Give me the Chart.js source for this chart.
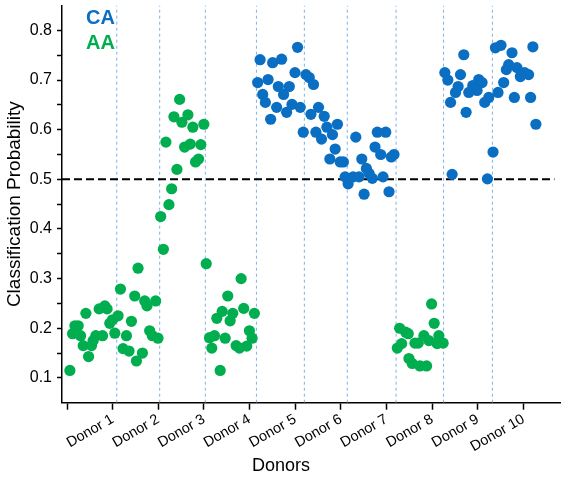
<!DOCTYPE html>
<html>
<head>
<meta charset="utf-8">
<script src="https://cdn.jsdelivr.net/npm/chart.js@4.4.1/dist/chart.umd.min.js"></script>
<style>
  html, body { margin: 0; padding: 0; background: #ffffff; }
  #wrap { width: 566px; height: 477px; position: relative; }
</style>
</head>
<body>
<div id="wrap"><canvas id="c" width="566" height="477"></canvas></div>
<script>
// ---------- data ----------
const donorTicks = [0, 1, 2, 3, 4, 5, 6, 7, 8, 9, 10];
const donorLabels = ['', 'Donor 1', 'Donor 2', 'Donor 3', 'Donor 4', 'Donor 5',
                     'Donor 6', 'Donor 7', 'Donor 8', 'Donor 9', 'Donor 10'];
const yTicks = [0.1, 0.15, 0.2, 0.25, 0.3, 0.35, 0.4, 0.45, 0.5, 0.55, 0.6, 0.65, 0.7, 0.75, 0.8];
const yLabels = ['0.1', '', '0.2', '', '0.3', '', '0.4', '', '0.5', '', '0.6', '', '0.7', '', '0.8'];

// AA (green) points
const aaX = [
  0.063, 0.122, 0.173, 0.245, 0.297, 0.354, 0.413, 0.472, 0.537, 0.572, 0.631, 0.704, 0.778, 0.828, 0.878, 0.937, 0.996, 1.047, 1.119, 1.171,
  1.228, 1.302, 1.359, 1.411, 1.483, 1.521, 1.652, 1.702, 1.752, 1.811, 1.870, 1.942, 1.993, 1.556,
  2.467, 2.342, 2.648, 2.517, 2.757, 2.998, 2.167, 2.576, 2.700, 2.932, 2.816, 2.882, 2.408, 2.292, 2.233, 2.052, 2.111, 3.050,
  3.122, 3.172, 3.231, 3.282, 3.356, 3.400, 3.465, 3.522, 3.574, 3.631, 3.705, 3.778, 3.815, 3.871, 3.937, 3.996, 4.055, 4.105,
  7.988, 7.288, 7.420, 7.476, 8.045, 7.819, 7.929, 8.147, 8.110, 8.241, 7.623, 7.695, 7.332, 7.236, 7.492, 7.564, 7.732, 7.878
];
const aaY = [
  0.115, 0.189, 0.205, 0.205, 0.185, 0.165, 0.230, 0.143, 0.165, 0.175, 0.185, 0.239, 0.185, 0.245, 0.239, 0.210, 0.217, 0.190, 0.225, 0.279,
  0.159, 0.185, 0.154, 0.214, 0.265, 0.134, 0.150, 0.255, 0.245, 0.195, 0.185, 0.255, 0.180, 0.321,
  0.661, 0.626, 0.630, 0.615, 0.605, 0.611, 0.575, 0.565, 0.571, 0.570, 0.535, 0.541, 0.520, 0.481, 0.449, 0.425, 0.359, 0.330,
  0.181, 0.160, 0.185, 0.220, 0.115, 0.234, 0.180, 0.265, 0.215, 0.230, 0.165, 0.160, 0.300, 0.240, 0.164, 0.195, 0.180, 0.230,
  0.249, 0.200, 0.192, 0.189, 0.210, 0.185, 0.175, 0.185, 0.169, 0.170, 0.170, 0.170, 0.169, 0.160, 0.139, 0.129, 0.124, 0.124
];

// CA (blue) points
const caX = [
  4.230, 4.505, 4.702, 5.051, 4.177, 4.405, 4.995, 5.235, 5.307, 5.401, 4.287, 4.630, 4.870, 4.745, 4.346, 4.593, 4.929, 5.110, 4.811, 4.461,
  5.510, 5.344, 5.635, 5.176, 5.453, 5.694, 5.925, 5.576, 5.816, 5.875, 5.759, 5.984, 6.056,
  6.327, 6.093, 6.159, 6.268, 6.399, 6.458, 6.509, 6.559, 6.618, 6.690, 6.749, 6.799, 6.983, 6.873, 6.924, 7.055, 7.105, 7.164,
  8.278, 8.344, 8.693, 8.621, 8.569, 8.512, 8.403, 8.744, 8.803, 8.890, 8.962, 9.021, 9.093, 8.984, 9.152, 9.240, 9.334, 8.438, 9.211,
  9.386, 9.508, 9.749, 10.207, 9.677, 9.626, 9.858, 10.026, 10.113, 9.932, 9.567, 9.443, 9.801, 10.157, 10.273
];
const caY = [
  0.741, 0.735, 0.742, 0.766, 0.695, 0.701, 0.715, 0.711, 0.705, 0.691, 0.671, 0.687, 0.687, 0.671, 0.655, 0.645, 0.651, 0.645, 0.635, 0.621,
  0.645, 0.631, 0.627, 0.595, 0.595, 0.605, 0.611, 0.581, 0.590, 0.561, 0.541, 0.535, 0.535,
  0.585, 0.505, 0.491, 0.505, 0.505, 0.541, 0.470, 0.522, 0.512, 0.502, 0.565, 0.595, 0.595, 0.550, 0.505, 0.475, 0.545, 0.550,
  0.715, 0.700, 0.751, 0.711, 0.687, 0.675, 0.655, 0.635, 0.675, 0.689, 0.685, 0.701, 0.695, 0.679, 0.655, 0.665, 0.555, 0.510, 0.501,
  0.765, 0.770, 0.755, 0.767, 0.731, 0.721, 0.725, 0.715, 0.711, 0.707, 0.695, 0.675, 0.665, 0.665, 0.611
];

// donor group boundaries (x) and decision threshold (y)
const boundaries = [1.09, 2.03, 3.03, 4.15, 5.20, 6.14, 7.21, 8.25, 9.32];
const threshold = 0.5;
const thresholdEnd = 10.68;

// ---------- chart ----------
const X_MIN = -0.11, X_MAX = 10.81, Y_MIN = 0.05, Y_MAX = 0.85;
const BLUE = '#0a6fc2', GREEN = '#00ae4f';
const FONT = "'Liberation Sans', Arial, sans-serif";

const pts = (xs, ys) => xs.map((x, i) => ({ x: x, y: ys[i] }));

const datasets = [
  { label: 'CA', data: pts(caX, caY), backgroundColor: BLUE, pointRadius: 5.6, pointBorderWidth: 0, order: 1 },
  { label: 'AA', data: pts(aaX, aaY), backgroundColor: GREEN, pointRadius: 5.6, pointBorderWidth: 0, order: 2 }
];
boundaries.forEach(b => {
  datasets.push({
    data: [{ x: b, y: Y_MIN }, { x: b, y: Y_MAX }],
    showLine: true, borderColor: '#7eb2e6', borderWidth: 1, borderDash: [3, 3],
    pointRadius: 0, order: 20
  });
});
datasets.push({
  data: [{ x: X_MIN, y: threshold }, { x: thresholdEnd, y: threshold }],
  showLine: true, borderColor: '#000000', borderWidth: 2, borderDash: [8, 4],
  pointRadius: 0, order: 10
});

const textPlugin = {
  id: 'textPlugin',
  afterDraw(chart) {
    const ctx = chart.ctx;
    ctx.save();
    ctx.textBaseline = 'alphabetic';
    ctx.textAlign = 'left';
    ctx.font = "bold 20px " + FONT;
    ctx.fillStyle = BLUE;
    ctx.fillText('CA', 86, 24);
    ctx.fillStyle = GREEN;
    ctx.fillText('AA', 86, 49);
    ctx.fillStyle = '#000';
    ctx.font = "18px " + FONT;
    ctx.textAlign = 'center';
    ctx.textBaseline = 'middle';
    ctx.fillText('Donors', 281, 466);
    ctx.restore();
  }
};

new Chart(document.getElementById('c'), {
  type: 'scatter',
  data: { datasets: datasets },
  options: {
    responsive: false,
    animation: false,
    events: [],
    devicePixelRatio: 1,
    layout: { padding: { left: 0, right: 4, top: 2.7, bottom: 0 } },
    plugins: { legend: { display: false }, tooltip: { enabled: false } },
    scales: {
      x: {
        type: 'linear', min: X_MIN, max: X_MAX,
        afterBuildTicks: s => { s.ticks = donorTicks.map(v => ({ value: v })); },
        afterFit: s => { s.height = 74.3; s.paddingLeft = 0; s.paddingRight = 0; },
        ticks: {
          autoSkip: false, minRotation: 30, maxRotation: 30, padding: 1,
          color: '#000', font: { family: FONT, size: 14.5 },
          callback: v => donorLabels[donorTicks.indexOf(v)] ?? ''
        },
        grid: { drawOnChartArea: false, drawTicks: true, tickLength: 7, tickColor: '#000', tickWidth: 1.5 },
        border: { display: true, color: '#000', width: 1.5 },
        title: { display: false }
      },
      y: {
        type: 'linear', min: Y_MIN, max: Y_MAX,
        afterBuildTicks: s => { s.ticks = yTicks.map(v => ({ value: v })); },
        afterFit: s => { s.width = 62; s.paddingTop = 0; s.paddingBottom = 0; },
        ticks: {
          autoSkip: false, padding: 5,
          color: '#000', font: { family: FONT, size: 16 },
          callback: v => { const i = yTicks.findIndex(t => Math.abs(t - v) < 1e-9); return i >= 0 ? yLabels[i] : ''; }
        },
        grid: { drawOnChartArea: false, drawTicks: true, tickLength: 5, tickColor: '#000', tickWidth: 1.5 },
        border: { display: true, color: '#000', width: 1.5 },
        title: {
          display: true, text: 'Classification Probability', color: '#000',
          font: { family: FONT, size: 19 }, padding: { top: 3, bottom: 0 }
        }
      }
    }
  },
  plugins: [textPlugin]
});
</script>
</body>
</html>
